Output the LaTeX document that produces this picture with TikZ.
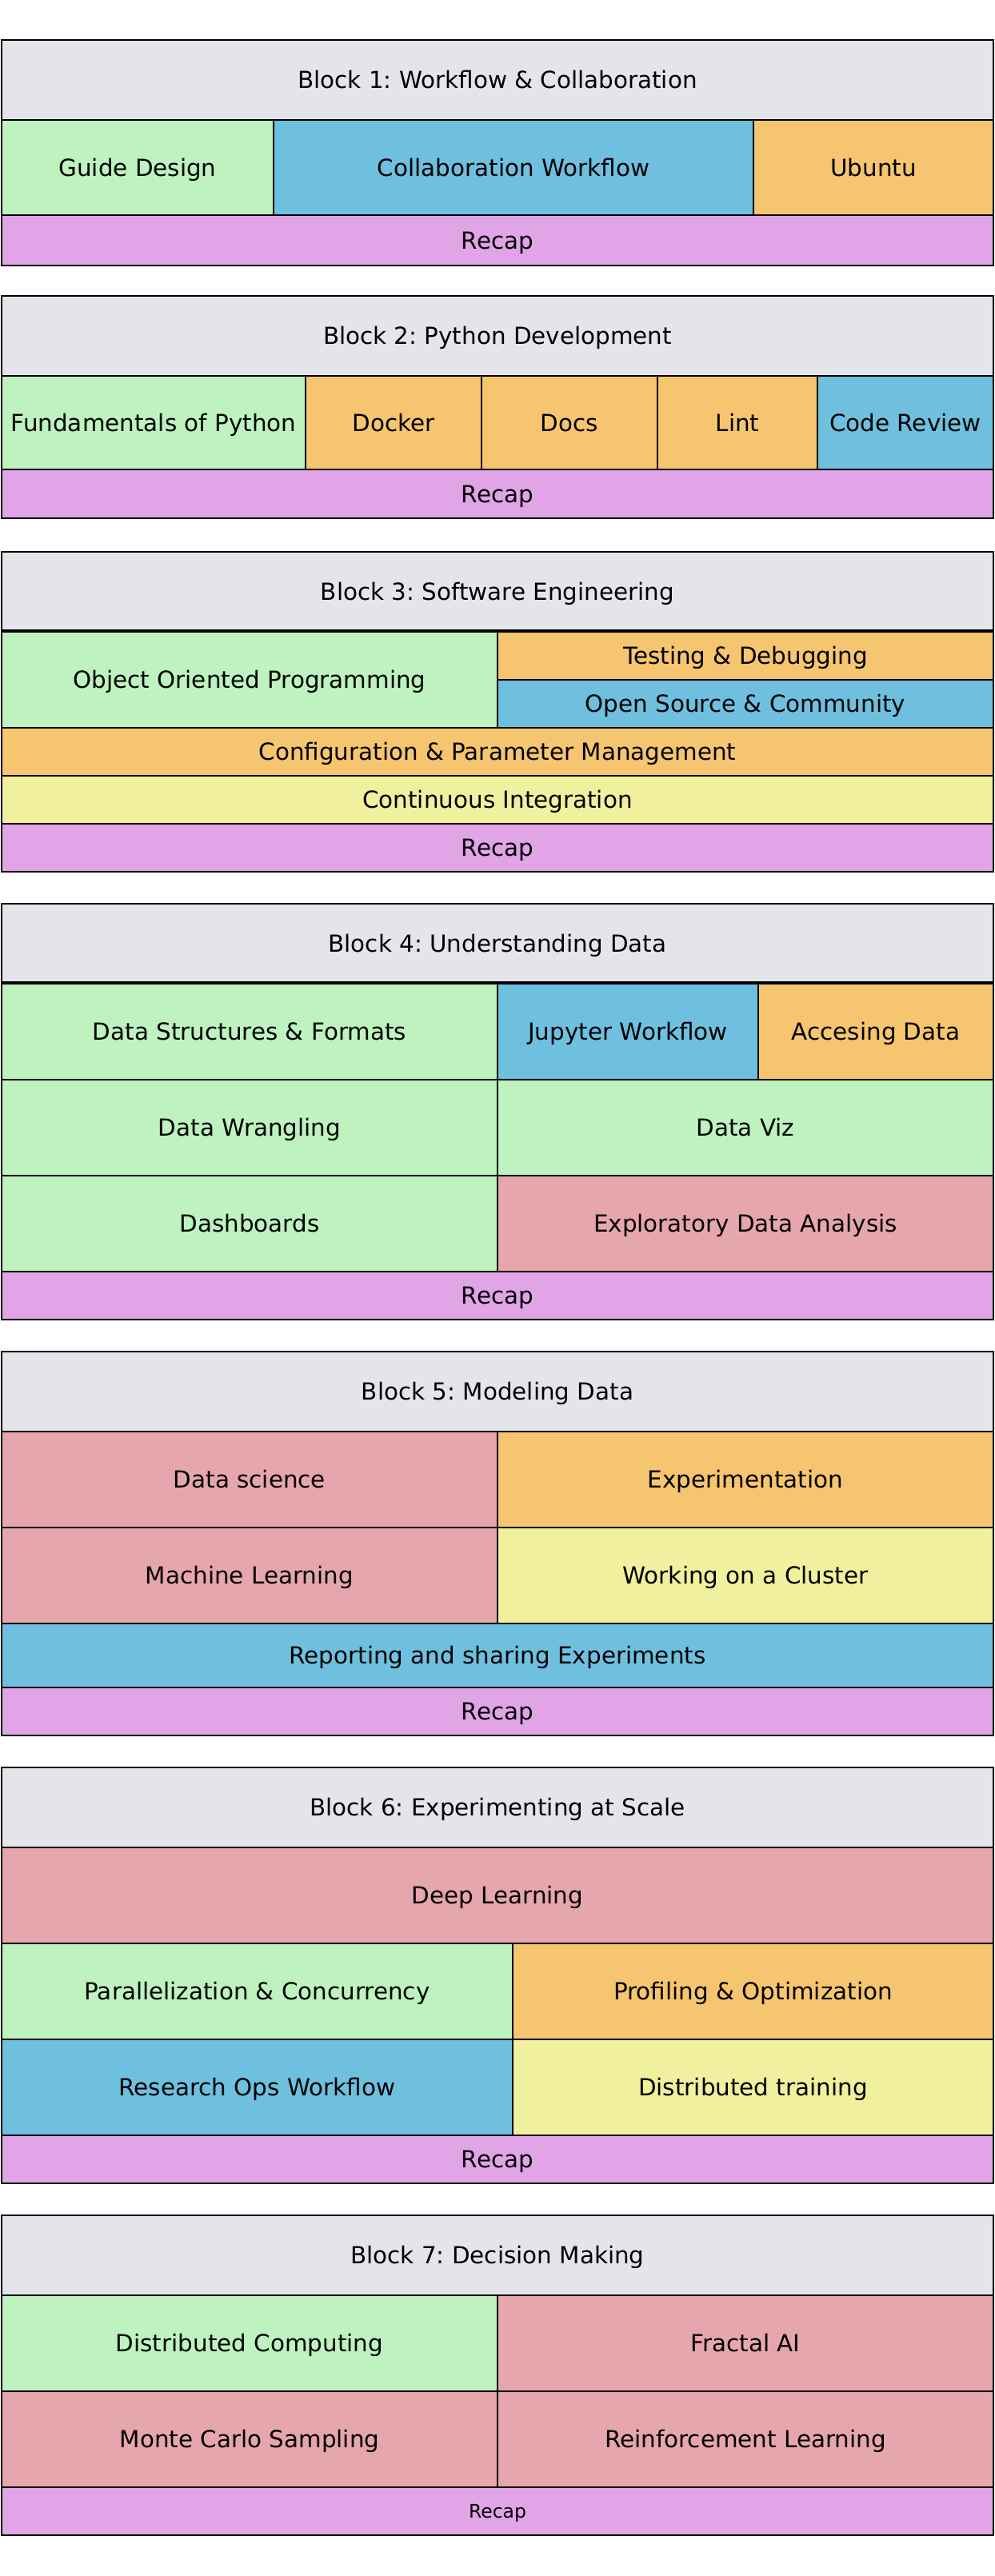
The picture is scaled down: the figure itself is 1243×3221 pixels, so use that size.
\documentclass[tikz,border=0pt]{standalone}
\usepackage{fontspec}
\setmainfont{DejaVu Sans}
\frenchspacing
\definecolor{hdr}{HTML}{E4E5EA}
\definecolor{grn}{HTML}{BEF2BF}
\definecolor{blu}{HTML}{6FBFDE}
\definecolor{org}{HTML}{F5C56F}
\definecolor{pnk}{HTML}{E1A4E6}
\definecolor{ros}{HTML}{E6A6AD}
\definecolor{yel}{HTML}{F1F09E}
\tikzset{
  cell/.style={draw=black, line width=2.2pt, rectangle, inner sep=0pt, outer sep=0pt,
    text height=21.5pt, text depth=0pt, font=\fontsize{29.4}{35}\selectfont\frenchspacing},
  smallcell/.style={cell, text height=17.2pt, font=\fontsize{23.5}{28}\selectfont\frenchspacing},
}
% \cellbox[style]{name}{x1}{y1}{x2}{y2}{colour}{text}
\newcommand{\cellbox}[8][cell]{%
  \node[#1, fill=#7, minimum width={(#5-#3)*1pt}, minimum height={(#6-#4)*1pt}]
    (#2) at ({(#3+#5)/2},{(#4+#6)/2}) {#8};}
\begin{document}
\begin{tikzpicture}[x=1pt,y=-1pt]
\useasboundingbox[fill=white] (0,0) rectangle (1243,3221);
% Block 1
\cellbox{h1}{2}{50}{1242}{150}{hdr}{Block 1: Workflow \& Collaboration}
\cellbox{guide}{2}{150}{342}{269}{grn}{Guide Design}
\cellbox{collab}{342}{150}{942}{269}{blu}{Collaboration Workflow}
\cellbox{ubuntu}{942}{150}{1242}{269}{org}{Ubuntu}
\cellbox{r1}{2}{269}{1242}{332}{pnk}{Recap}
% Block 2
\cellbox{h2}{2}{370}{1242}{470}{hdr}{Block 2: Python Development}
\cellbox{fund}{2}{470}{382}{587}{grn}{Fundamentals of Python}
\cellbox{docker}{382}{470}{602}{587}{org}{Docker}
\cellbox{docs}{602}{470}{822}{587}{org}{Docs}
\cellbox{lint}{822}{470}{1022}{587}{org}{Lint}
\cellbox{review}{1022}{470}{1242}{587}{blu}{Code Review}
\cellbox{r2}{2}{587}{1242}{648}{pnk}{Recap}
% Block 3
\cellbox{h3}{2}{690}{1242}{789}{hdr}{Block 3: Software Engineering}
\cellbox{oop}{2}{789}{622}{910}{grn}{Object Oriented Programming}
\cellbox{testing}{622}{789}{1242}{850}{org}{Testing \& Debugging}
\cellbox{opensrc}{622}{850}{1242}{910}{blu}{Open Source \& Community}
\cellbox{config}{2}{910}{1242}{970}{org}{Configuration \& Parameter Management}
\cellbox{ci}{2}{970}{1242}{1030}{yel}{Continuous Integration}
\cellbox{r3}{2}{1030}{1242}{1090}{pnk}{Recap}
\draw[line width=4pt] (h3.south west) -- (h3.south east);
% Block 4
\cellbox{h4}{2}{1130}{1242}{1229}{hdr}{Block 4: Understanding Data}
\cellbox{dsf}{2}{1229}{622}{1350}{grn}{Data Structures \& Formats}
\cellbox{jup}{622}{1229}{948}{1350}{blu}{Jupyter Workflow}
\cellbox{acc}{948}{1229}{1242}{1350}{org}{Accesing Data}
\cellbox{wrang}{2}{1350}{622}{1470}{grn}{Data Wrangling}
\cellbox{viz}{622}{1350}{1242}{1470}{grn}{Data Viz}
\cellbox{dash}{2}{1470}{622}{1590}{grn}{Dashboards}
\cellbox{eda}{622}{1470}{1242}{1590}{ros}{Exploratory Data Analysis}
\cellbox{r4}{2}{1590}{1242}{1650}{pnk}{Recap}
\draw[line width=4pt] (h4.south west) -- (h4.south east);
% Block 5
\cellbox{h5}{2}{1690}{1242}{1790}{hdr}{Block 5: Modeling Data}
\cellbox{ds}{2}{1790}{622}{1910}{ros}{Data science}
\cellbox{exp}{622}{1790}{1242}{1910}{org}{Experimentation}
\cellbox{ml}{2}{1910}{622}{2030}{ros}{Machine Learning}
\cellbox{cluster}{622}{1910}{1242}{2030}{yel}{Working on a Cluster}
\cellbox{report}{2}{2030}{1242}{2110}{blu}{Reporting and sharing Experiments}
\cellbox{r5}{2}{2110}{1242}{2170}{pnk}{Recap}
% Block 6
\cellbox{h6}{2}{2210}{1242}{2310}{hdr}{Block 6: Experimenting at Scale}
\cellbox{dl}{2}{2310}{1242}{2430}{ros}{Deep Learning}
\cellbox{par}{2}{2430}{641}{2550}{grn}{Parallelization \& Concurrency}
\cellbox{prof}{641}{2430}{1242}{2550}{org}{Profiling \& Optimization}
\cellbox{rops}{2}{2550}{641}{2670}{blu}{Research Ops Workflow}
\cellbox{dtrain}{641}{2550}{1242}{2670}{yel}{Distributed training}
\cellbox{r6}{2}{2670}{1242}{2730}{pnk}{Recap}
% Block 7
\cellbox{h7}{2}{2770}{1242}{2870}{hdr}{Block 7: Decision Making}
\cellbox{dcomp}{2}{2870}{622}{2990}{grn}{Distributed Computing}
\cellbox{fractal}{622}{2870}{1242}{2990}{ros}{Fractal AI}
\cellbox{mc}{2}{2990}{622}{3110}{ros}{Monte Carlo Sampling}
\cellbox{rl}{622}{2990}{1242}{3110}{ros}{Reinforcement Learning}
\cellbox[smallcell]{r7}{2}{3110}{1242}{3170}{pnk}{Recap}
\end{tikzpicture}
\end{document}
